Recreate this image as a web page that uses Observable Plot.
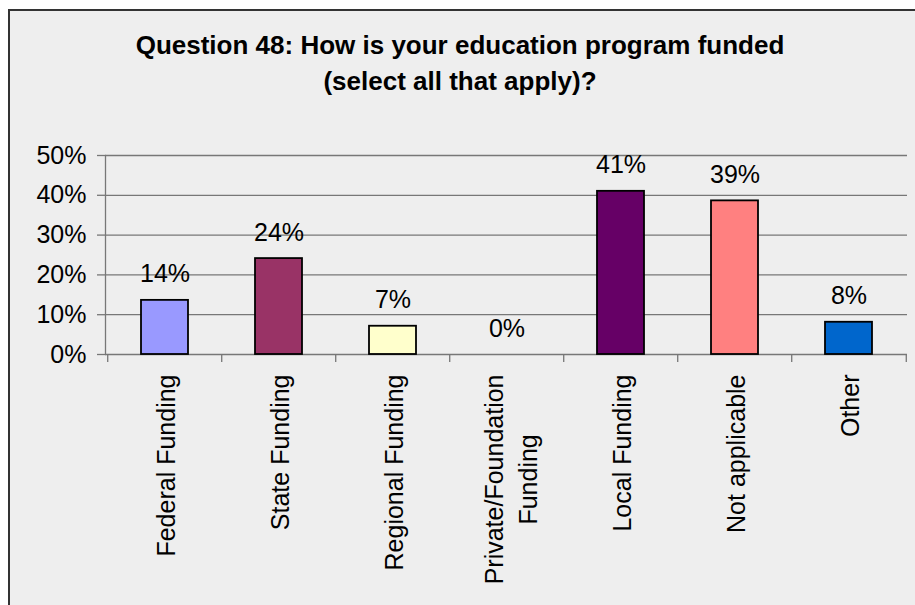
<!DOCTYPE html>
<html>
<head>
<meta charset="utf-8">
<script src="https://cdn.jsdelivr.net/npm/d3@7"></script>
<script src="https://cdn.jsdelivr.net/npm/@observablehq/plot@0.6"></script>
<style>
  html, body { margin: 0; padding: 0; background: #ffffff; overflow: hidden; width: 915px; height: 605px; }
  #frame { position: absolute; left: 8px; top: 9px; width: 930px; height: 620px; box-sizing: border-box;
           border: 2px solid #333333; background: #eeeeee; }
  #title { position: absolute; left: 8px; top: 27px; width: 904px; text-align: center;
           font-family: "Liberation Sans", Arial, sans-serif; font-weight: bold; font-size: 26px;
           line-height: 36px; color: #000; }
  #chart { position: absolute; left: 0; top: 0; }
</style>
</head>
<body>
<div id="frame"></div>
<div id="title">Question 48: How is your education program funded<br>(select all that apply)?</div>
<div id="chart"></div>
<script>
const categories = ["Federal Funding", "State Funding", "Regional Funding", "Private/Foundation Funding", "Local Funding", "Not applicable", "Other"];
const tickLabels = ["Federal Funding", "State Funding", "Regional Funding", "Private/Foundation\nFunding", "Local Funding", "Not applicable", "Other"];
const values = [13.6, 24.1, 7.1, 0, 41.0, 38.6, 8.1];
const colors = ["#9999ff", "#993366", "#ffffcc", "#ffffff", "#660066", "#ff8080", "#0066cc"];
const yTicks = [0, 10, 20, 30, 40, 50];

const data = categories.map((c, i) => ({cat: c, value: values[i]}));

const W = 915, H = 605;
const mL = 105, mR = 8, mT = 155, mB = 251;
const step = (W - mL - mR) / categories.length;
const FS = 25;

const font = "'Liberation Sans', Arial, sans-serif";
const ctx = document.createElement("canvas").getContext("2d");
ctx.font = FS + "px " + font;
const multi = tickLabels.filter(t => t.includes("\n"));
const multiCats = categories.filter((c, i) => tickLabels[i].includes("\n"));
const singleCats = categories.filter((c, i) => !tickLabels[i].includes("\n"));
const longest = d3.max(multi[0].split("\n"), s => ctx.measureText(s).width);

const chart = Plot.plot({
  width: W,
  height: H,
  marginLeft: mL,
  marginRight: mR,
  marginTop: mT,
  marginBottom: mB,
  style: {background: "transparent", fontFamily: font, fontSize: FS + "px", color: "#000", overflow: "visible"},
  x: {domain: categories, paddingInner: 0.59, paddingOuter: 0.295, label: null},
  y: {domain: [0, 50], label: null},
  color: {domain: categories, range: colors},
  marks: [
    Plot.gridY(yTicks, {stroke: "#777777", strokeOpacity: 1, strokeWidth: 1.3}),
    Plot.frame({anchor: "left", stroke: "#777777", strokeWidth: 1.3}),
    Plot.axisY(yTicks, {tickSize: 8, tickPadding: 11, stroke: "#777777", strokeWidth: 1.3,
      tickFormat: d => d + "%", fontSize: FS, fill: "#000", label: null}),
    Plot.axisX({tickSize: 8, text: null, dx: -step / 2, stroke: "#777777", strokeWidth: 1.3, label: null}),
    Plot.axisX([categories[categories.length - 1]], {tickSize: 8, text: null, dx: step / 2, stroke: "#777777", strokeWidth: 1.3, label: null}),
    Plot.axisX(singleCats, {tickSize: 0, tickPadding: 20, tickRotate: -90, fontSize: FS, fill: "#000", label: null, dx: 2,
      tickFormat: c => tickLabels[categories.indexOf(c)]}),
    Plot.text(multiCats, {x: d => d, frameAnchor: "bottom", rotate: -90, textAnchor: "middle", lineAnchor: "middle",
      lineHeight: 1.38, dy: 20 + longest / 2, dx: 2, fontSize: FS, fill: "#000",
      text: c => tickLabels[categories.indexOf(c)]}),
    Plot.barY(data.filter(d => d.value > 0), {x: "cat", y: "value", fill: "cat", stroke: "#000", strokeWidth: 1.8}),
    Plot.text(data, {x: "cat", y: "value", text: d => Math.round(d.value) + "%", dy: -26, lineAnchor: "middle",
      fontSize: FS, fill: "#000"})
  ]
});
document.getElementById("chart").appendChild(chart);
</script>
</body>
</html>
